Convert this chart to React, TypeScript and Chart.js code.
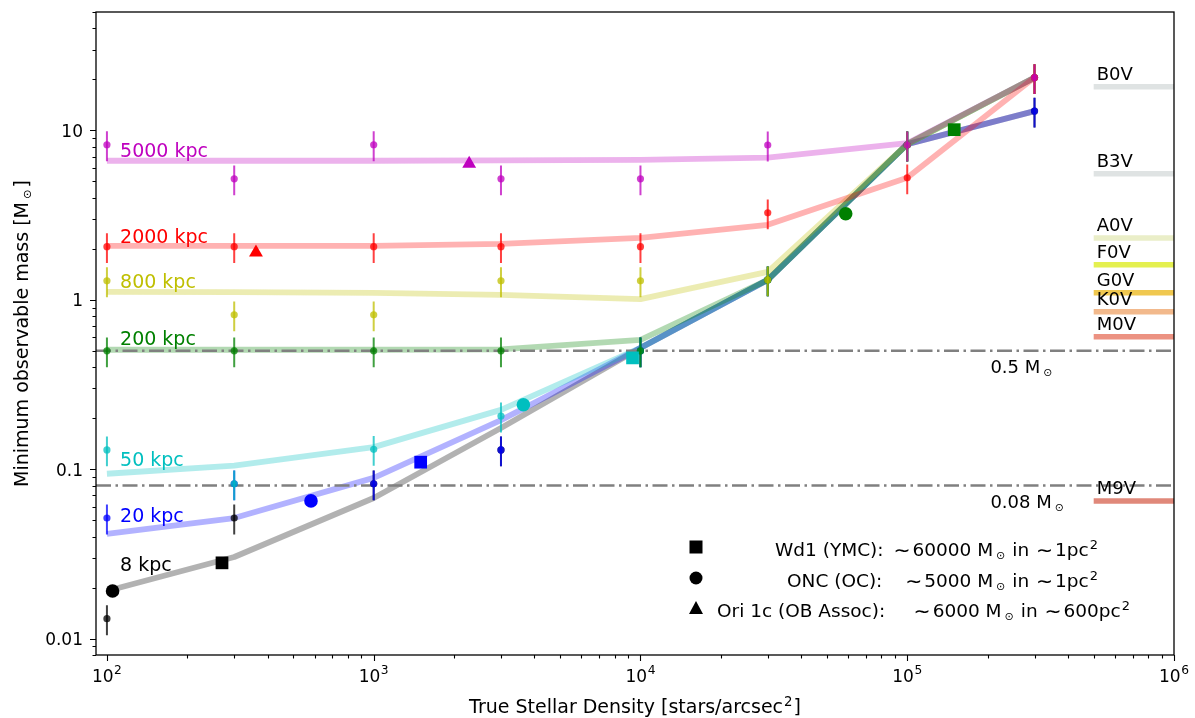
import React, { useEffect, useRef } from 'react';
import { Chart, registerables } from 'chart.js';

Chart.register(...registerables);

// ---------------- data ----------------
const DENSITY = [100, 300, 1000, 3000, 10000, 30000, 100000, 300000];

const DISTANCE_LABELS = ['8 kpc', '20 kpc', '50 kpc', '200 kpc', '800 kpc', '2000 kpc', '5000 kpc'];
// y anchor (mass) for each distance label, placed at density LABEL_X
const LABEL_MASS = [0.0276, 0.0537, 0.115, 0.596, 1.295, 2.39, 7.69];
const LABEL_X = 112;

// thick translucent trend lines
const LINE_8KPC = [0.0191, 0.0303, 0.0676, 0.175, 0.52, 1.31, 8.3, 13];
const LINE_20KPC = [0.0415, 0.0515, 0.0889, 0.195, 0.52, 1.31, 8.3, 13];
const LINE_50KPC = [0.094, 0.105, 0.135, 0.224, 0.52, 1.31, 8.3, 20.5];
const LINE_200KPC = [0.507, 0.507, 0.507, 0.51, 0.58, 1.31, 8.3, 20.5];
const LINE_800KPC = [1.115, 1.11, 1.1, 1.07, 1.01, 1.46, 8.3, 20.5];
const LINE_2000KPC = [2.08, 2.08, 2.08, 2.14, 2.32, 2.77, 5.25, 20.5];
const LINE_5000KPC = [6.62, 6.62, 6.62, 6.65, 6.7, 6.9, 8.4, 20.5];

// measured points (with relative error bars)
const PTS_8KPC = [0.0131, 0.0515, 0.082, 0.13, 0.5, 1.31, 8.2, 13];
const PTS_20KPC = [0.0515, 0.082, 0.082, 0.13, 0.5, 1.31, 8.2, 13];
const PTS_50KPC = [0.13, 0.082, 0.131, 0.206, 0.5, 1.31, 8.2, 20.5];
const PTS_200KPC = [0.5, 0.5, 0.5, 0.5, 0.5, 1.31, 8.2, 20.5];
const PTS_800KPC = [1.295, 0.815, 0.815, 1.295, 1.295, 1.31, 8.2, 20.5];
const PTS_2000KPC = [2.06, 2.06, 2.06, 2.06, 2.06, 3.26, 5.25, 20.5];
const PTS_5000KPC = [8.23, 5.18, 8.23, 5.18, 5.18, 8.2, 8.2, 20.5];
const ERR_FRAC = 0.2;

// reference clusters
const WD1_X = [270, 1500, 9340, 150000];
const WD1_Y = [0.028, 0.11, 0.454, 10.1];
const ONC_X = [105, 582, 3640, 58800];
const ONC_Y = [0.0191, 0.065, 0.24, 3.22];
const ORI_X = [362, 2280];
const ORI_Y = [1.9, 6.36];

// spectral types
const SPEC_TYPES = ['B0V', 'B3V', 'A0V', 'F0V', 'G0V', 'K0V', 'M0V', 'M9V'];
const SPEC_MASS = [18.1, 5.55, 2.32, 1.61, 1.1, 0.85, 0.605, 0.065];
const SPEC_X = [5e5, 1e6];

// mass limits
const MASS_LIMITS = [0.5, 0.08];
const MASS_LIMIT_TEXT = ['0.5', '0.08'];
const MASS_LABEL_X = 2.05e5;

// legend text
const LEGEND_NAMES = ['Wd1 (YMC):', 'ONC (OC):', 'Ori 1c (OB Assoc):'];
const LEGEND_MASS = ['60000', '5000', '6000'];
const LEGEND_AREA = ['1', '1', '600'];

const X_MIN = 91;
const X_MAX = 1e6;
const Y_MIN = 0.008;
const Y_MAX = 50;

// ---------------- styles ----------------
const DIST_RGB = [
  [0, 0, 0],
  [0, 0, 255],
  [0, 191, 191],
  [0, 128, 0],
  [191, 191, 0],
  [255, 0, 0],
  [191, 0, 191],
];
const SPEC_COLORS = ['#dfe3e3', '#dfe3e3', '#eaeec8', '#e4f050', '#f0c850', '#f2b98c', '#ec9282', '#e0887a'];
const WD1_COLORS = ['#000000', '#0000ff', '#00bfbf', '#008000'];
const ONC_COLORS = ['#000000', '#0000ff', '#00bfbf', '#008000'];
const ORI_COLORS = ['#ff0000', '#bf00bf'];
const FONT = '"DejaVu Sans", sans-serif';

const rgba = (c: number[], a: number) => `rgba(${c[0]},${c[1]},${c[2]},${a})`;

const LINES = [LINE_8KPC, LINE_20KPC, LINE_50KPC, LINE_200KPC, LINE_800KPC, LINE_2000KPC, LINE_5000KPC];
const PTS = [PTS_8KPC, PTS_20KPC, PTS_50KPC, PTS_200KPC, PTS_800KPC, PTS_2000KPC, PTS_5000KPC];

type Part = { t: string; s?: number; dy?: number; pre?: number };
const SUN: Part = { t: '\u2299', s: 0.6, dy: 3, pre: 3 };
const SUP2: Part = { t: '2', s: 0.7, dy: -7.5, pre: 1 };

function drawRich(ctx: CanvasRenderingContext2D, parts: Part[], x: number, y: number, size: number, align: string) {
  const widths = parts.map((p) => {
    ctx.font = `${size * (p.s ?? 1)}px ${FONT}`;
    return (p.pre ?? 0) + ctx.measureText(p.t).width;
  });
  const total = widths.reduce((a, b) => a + b, 0);
  let cx = align === 'center' ? x - total / 2 : align === 'right' ? x - total : x;
  ctx.textAlign = 'left';
  ctx.textBaseline = 'alphabetic';
  parts.forEach((p, i) => {
    ctx.font = `${size * (p.s ?? 1)}px ${FONT}`;
    ctx.fillText(p.t, cx + (p.pre ?? 0), y + (p.dy ?? 0));
    cx += widths[i];
  });
}

const decorPlugin = {
  id: 'decor',
  beforeDatasetDraw(chart: any, args: any) {
    const ds = chart.data.datasets[args.index];
    if (!ds.errFrac) return;
    const ctx = chart.ctx as CanvasRenderingContext2D;
    const xs = chart.scales.x;
    const ys = chart.scales.y;
    ctx.save();
    ctx.strokeStyle = ds.borderColor;
    ctx.lineWidth = 2;
    ctx.beginPath();
    ds.data.forEach((p: any) => {
      const px = xs.getPixelForValue(p.x);
      ctx.moveTo(px, ys.getPixelForValue(p.y * (1 + ds.errFrac)));
      ctx.lineTo(px, ys.getPixelForValue(p.y * (1 - ds.errFrac)));
    });
    ctx.stroke();
    ctx.restore();
  },
  afterDraw(chart: any) {
    const ctx = chart.ctx as CanvasRenderingContext2D;
    const xs = chart.scales.x;
    const ys = chart.scales.y;
    const a = chart.chartArea;
    ctx.save();
    ctx.fillStyle = '#000';
    ctx.strokeStyle = '#000';

    // distance labels
    DISTANCE_LABELS.forEach((t, i) => {
      ctx.fillStyle = rgba(DIST_RGB[i], 1);
      drawRich(ctx, [{ t }], xs.getPixelForValue(LABEL_X), ys.getPixelForValue(LABEL_MASS[i]) + 7, 19, 'left');
    });

    // spectral labels
    ctx.fillStyle = '#000';
    SPEC_TYPES.forEach((t, i) => {
      drawRich(ctx, [{ t }], xs.getPixelForValue(SPEC_X[0]) + 3, ys.getPixelForValue(SPEC_MASS[i]) - 7, 18, 'left');
    });

    // mass limit labels
    MASS_LIMITS.forEach((m, i) => {
      drawRich(ctx, [{ t: MASS_LIMIT_TEXT[i] + ' M' }, SUN], xs.getPixelForValue(MASS_LABEL_X), ys.getPixelForValue(m) + 22.5, 18, 'left');
    });

    // legend
    const rowY = [547, 578, 608];
    const nameX = [775, 787, 717];
    const endX = [1098, 1098, 1130];
    const mx = 696;
    ctx.fillRect(mx - 6.5, rowY[0] - 6.5, 13, 13);
    ctx.beginPath();
    ctx.arc(mx, rowY[1], 6.5, 0, Math.PI * 2);
    ctx.fill();
    ctx.beginPath();
    ctx.moveTo(mx, rowY[2] - 7);
    ctx.lineTo(mx + 7, rowY[2] + 6);
    ctx.lineTo(mx - 7, rowY[2] + 6);
    ctx.closePath();
    ctx.fill();
    LEGEND_NAMES.forEach((name, i) => {
      drawRich(ctx, [{ t: name }], nameX[i], rowY[i] + 9, 18.5, 'left');
      drawRich(
        ctx,
        [
          { t: '\u223C', s: 1.1, dy: 1 },
          { t: LEGEND_MASS[i] + ' M', pre: 2 },
          SUN,
          { t: ' in ', pre: 1 },
          { t: '\u223C', s: 1.1, dy: 1, pre: 1 },
          { t: LEGEND_AREA[i] + 'pc', pre: 2 },
          SUP2,
        ],
        endX[i],
        rowY[i] + 9,
        18.5,
        'right'
      );
    });

    // ticks
    ctx.lineWidth = 1.1;
    ctx.beginPath();
    for (let e = 1; e <= 6; e++) {
      for (let k = 1; k <= 9; k++) {
        const v = k * Math.pow(10, e);
        if (v < X_MIN || v > X_MAX * 1.0001) continue;
        const px = Math.round(xs.getPixelForValue(v)) + 0.5;
        ctx.moveTo(px, a.bottom);
        ctx.lineTo(px, a.bottom + (k === 1 ? 6 : 3.5));
      }
    }
    for (let e = -3; e <= 1; e++) {
      for (let k = 1; k <= 9; k++) {
        const v = k * Math.pow(10, e);
        if (v < Y_MIN * 0.9999 || v > Y_MAX) continue;
        const py = Math.round(ys.getPixelForValue(v)) + 0.5;
        ctx.moveTo(a.left, py);
        ctx.lineTo(a.left - (k === 1 ? 6 : 3.5), py);
      }
    }
    ctx.stroke();

    // tick labels
    for (let e = 2; e <= 6; e++) {
      const px = xs.getPixelForValue(Math.pow(10, e));
      drawRich(ctx, [{ t: '10' }, { t: String(e), s: 0.72, dy: -8, pre: 0.5 }], px, a.bottom + 27, 17, 'center');
    }
    const yTicks = [10, 1, 0.1, 0.01];
    const yTickText = ['10', '1', '0.1', '0.01'];
    yTicks.forEach((v, i) => {
      drawRich(ctx, [{ t: yTickText[i] }], a.left - 13, ys.getPixelForValue(v) + 6.5, 17, 'right');
    });

    // axis titles
    drawRich(ctx, [{ t: 'True Stellar Density [stars/arcsec' }, SUP2, { t: ']', pre: 1 }], (a.left + a.right) / 2, 713, 19, 'center');
    ctx.save();
    ctx.translate(28, (a.top + a.bottom) / 2);
    ctx.rotate(-Math.PI / 2);
    drawRich(ctx, [{ t: 'Minimum observable mass [M' }, { t: '\u2299', s: 0.6, dy: 3, pre: 3 }, { t: ']', pre: 2 }], 0, 0, 19, 'center');
    ctx.restore();

    // frame
    ctx.lineWidth = 1.3;
    ctx.strokeRect(a.left, a.top, a.right - a.left, a.bottom - a.top);
    ctx.restore();
  },
};

function buildDatasets() {
  const ds: any[] = [];
  LINES.forEach((arr, i) => {
    ds.push({
      data: DENSITY.map((x, j) => ({ x, y: arr[j] })),
      showLine: true,
      borderColor: rgba(DIST_RGB[i], 0.3),
      borderWidth: 5.8,
      borderJoinStyle: 'round',
      pointRadius: 0,
      order: 60 - i,
    });
  });
  SPEC_MASS.forEach((m, i) => {
    ds.push({
      data: SPEC_X.map((x) => ({ x, y: m })),
      showLine: true,
      borderColor: SPEC_COLORS[i],
      borderWidth: 5.5,
      pointRadius: 0,
      order: 45,
    });
  });
  MASS_LIMITS.forEach((m) => {
    ds.push({
      data: [
        { x: X_MIN, y: m },
        { x: X_MAX, y: m },
      ],
      showLine: true,
      borderColor: '#808080',
      borderWidth: 2.5,
      borderDash: [15, 4.5, 2.5, 4.5],
      pointRadius: 0,
      order: 40,
    });
  });
  PTS.forEach((arr, i) => {
    ds.push({
      data: DENSITY.map((x, j) => ({ x, y: arr[j] })),
      showLine: false,
      borderColor: rgba(DIST_RGB[i], 0.75),
      backgroundColor: rgba(DIST_RGB[i], 0.75),
      pointBackgroundColor: rgba(DIST_RGB[i], 0.75),
      pointBorderWidth: 0,
      pointRadius: 3.6,
      errFrac: ERR_FRAC,
      order: 30 - i,
    });
  });
  ds.push({
    data: WD1_X.map((x, j) => ({ x, y: WD1_Y[j] })),
    showLine: false,
    pointStyle: 'rect',
    pointRadius: 9,
    pointBorderWidth: 0,
    pointBackgroundColor: WD1_COLORS,
    order: 10,
  });
  ds.push({
    data: ONC_X.map((x, j) => ({ x, y: ONC_Y[j] })),
    showLine: false,
    pointStyle: 'circle',
    pointRadius: 6.8,
    pointBorderWidth: 0,
    pointBackgroundColor: ONC_COLORS,
    order: 10,
  });
  ds.push({
    data: ORI_X.map((x, j) => ({ x, y: ORI_Y[j] })),
    showLine: false,
    pointStyle: 'triangle',
    pointRadius: 8,
    pointBorderWidth: 0,
    pointBackgroundColor: ORI_COLORS,
    order: 10,
  });
  return ds;
}

export default function App() {
  const ref = useRef<HTMLCanvasElement>(null);
  useEffect(() => {
    document.body.style.margin = '0';
    const chart = new Chart(ref.current as HTMLCanvasElement, {
      type: 'scatter',
      data: { datasets: buildDatasets() },
      options: {
        animation: false,
        responsive: false,
        devicePixelRatio: 1,
        events: [],
        layout: { padding: { left: 96, right: 21, top: 12, bottom: 63 } },
        plugins: { legend: { display: false }, tooltip: { enabled: false } },
        scales: {
          x: { type: 'logarithmic', min: X_MIN, max: X_MAX, display: false },
          y: { type: 'logarithmic', min: Y_MIN, max: Y_MAX, display: false },
        },
      } as any,
      plugins: [decorPlugin],
    });
    return () => chart.destroy();
  }, []);
  return (
    <div style={{ width: 1195, height: 718 }}>
      <canvas ref={ref} width={1195} height={718} style={{ display: 'block' }} />
    </div>
  );
}
